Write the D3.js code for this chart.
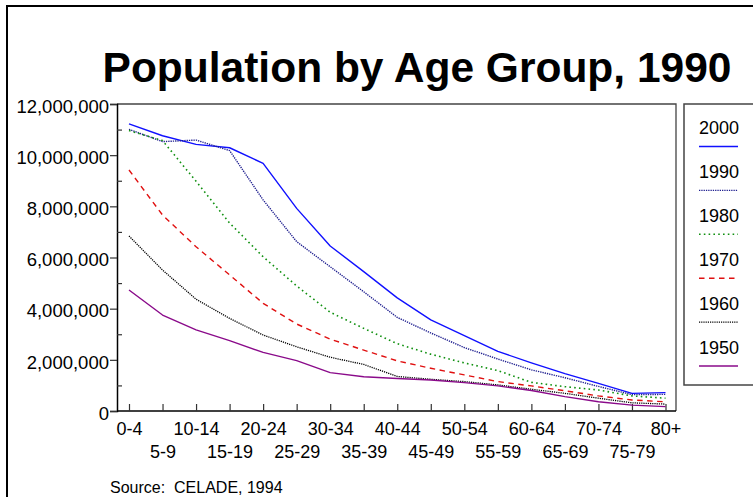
<!DOCTYPE html>
<html>
<head>
<meta charset="utf-8">
<script src="https://cdn.jsdelivr.net/npm/d3@7"></script>
<style>
  html, body { margin: 0; padding: 0; background: #fff; }
  svg { display: block; font-family: "Liberation Sans", Arial, sans-serif; }
</style>
</head>
<body>
<svg id="chart" width="753" height="497"></svg>
<script>
const categories = ["0-4","5-9","10-14","15-19","20-24","25-29","30-34","35-39","40-44","45-49","50-54","55-59","60-64","65-69","70-74","75-79","80+"];
const yTicks = [0, 2000000, 4000000, 6000000, 8000000, 10000000, 12000000];
const yMinorTicks = [1000000, 3000000, 5000000, 7000000, 9000000, 11000000];
const seriesNames = ["2000", "1990", "1980", "1970", "1960", "1950"];
const v2000 = [11.22, 10.76, 10.42, 10.29, 9.68, 7.92, 6.45, 5.45, 4.42, 3.56, 2.95, 2.33, 1.88, 1.46, 1.08, 0.69, 0.72];
const v1990 = [11.01, 10.53, 10.59, 10.18, 8.25, 6.62, 5.64, 4.66, 3.66, 3.05, 2.48, 2.03, 1.61, 1.30, 0.96, 0.64, 0.65];
const v1980 = [10.96, 10.57, 8.98, 7.35, 6.03, 4.89, 3.86, 3.23, 2.63, 2.22, 1.88, 1.58, 1.12, 0.95, 0.82, 0.59, 0.50];
const v1970 = [9.42, 7.66, 6.42, 5.32, 4.21, 3.40, 2.81, 2.38, 1.96, 1.67, 1.41, 1.15, 0.98, 0.79, 0.59, 0.43, 0.36];
const v1960 = [6.84, 5.51, 4.37, 3.62, 2.97, 2.51, 2.10, 1.82, 1.35, 1.24, 1.15, 1.02, 0.85, 0.69, 0.50, 0.32, 0.27];
const v1950 = [4.73, 3.75, 3.17, 2.75, 2.29, 1.97, 1.50, 1.34, 1.27, 1.21, 1.11, 0.98, 0.80, 0.56, 0.36, 0.23, 0.17];
const seriesValues = [v2000, v1990, v1980, v1970, v1960, v1950];

const styles = {
  "2000": { color: "#1010ff", dash: null, width: 1.4 },
  "1990": { color: "#202090", dash: "1.3,1", width: 1.4 },
  "1980": { color: "#109010", dash: "1.6,3.2", width: 1.6 },
  "1970": { color: "#e01010", dash: "5.5,4.5", width: 1.4 },
  "1960": { color: "#000000", dash: "1.2,1", width: 1.3 },
  "1950": { color: "#8a0a8a", dash: null, width: 1.4 }
};

const svg = d3.select("#chart");
const L = 117, R = 676, T = 104, B = 411;

// outer border
svg.append("rect").attr("x", 7).attr("y", 6).attr("width", 780).attr("height", 520)
  .attr("fill", "none").attr("stroke", "#000").attr("stroke-width", 2);

// title
svg.append("text").attr("x", 417).attr("y", 82).attr("text-anchor", "middle")
  .attr("font-size", 42.5).attr("font-weight", "bold").attr("fill", "#000")
  .text("Population by Age Group, 1990");

const x = d3.scalePoint().domain(categories).range([129, 665.5]);
const y = d3.scaleLinear().domain([0, 12000000]).range([B, T]);

// plot frame top & right
svg.append("path").attr("d", `M${L},${T}H${R}V${B}`)
  .attr("fill", "none").attr("stroke", "#444").attr("stroke-width", 1.3);

// y axis major
const yAxis = svg.append("g").attr("transform", `translate(${L},0)`)
  .call(d3.axisLeft(y).tickValues(yTicks).tickSize(7).tickPadding(1).tickFormat(d3.format(",")));
yAxis.select(".domain").attr("stroke", "#000").attr("stroke-width", 1.5);
yAxis.selectAll(".tick line").attr("stroke", "#333").attr("stroke-width", 1.2);
yAxis.selectAll(".tick text").attr("font-size", 18.5).attr("font-family", "Liberation Sans, Arial, sans-serif")
  .attr("fill", "#000").attr("dy", "0.45em");

// y axis minor ticks (inward)
const yMinor = svg.append("g").attr("transform", `translate(${L},0)`)
  .call(d3.axisLeft(y).tickValues(yMinorTicks).tickSize(-5).tickFormat(""));
yMinor.select(".domain").remove();
yMinor.selectAll(".tick line").attr("stroke", "#333").attr("stroke-width", 1.2);

// x axis
const xAxis = svg.append("g").attr("transform", `translate(0,${B})`)
  .call(d3.axisBottom(x).tickSize(-7));
xAxis.select(".domain").attr("d", `M${L},0H${R}`).attr("stroke", "#000").attr("stroke-width", 1.5);
xAxis.selectAll(".tick line").attr("stroke", "#333").attr("stroke-width", 1.2);
xAxis.selectAll(".tick text")
  .attr("font-size", 18).attr("font-family", "Liberation Sans, Arial, sans-serif").attr("fill", "#000")
  .attr("dy", 0)
  .attr("y", (d, i) => (i % 2 ? 47 : 24));

// lines
const line = d3.line().x((d, i) => x(categories[i])).y(d => y(d * 1000000));
seriesNames.forEach((name, k) => {
  const s = styles[name];
  svg.append("path").datum(seriesValues[k])
    .attr("d", line).attr("fill", "none")
    .attr("stroke", s.color).attr("stroke-width", s.width)
    .attr("stroke-dasharray", s.dash)
    .attr("stroke-linejoin", "round");
});

// legend
svg.append("rect").attr("x", 684).attr("y", 104).attr("width", 100).attr("height", 281)
  .attr("fill", "#fff").attr("stroke", "#444").attr("stroke-width", 1.5);
const lg = svg.append("g");
seriesNames.forEach((name, k) => {
  const s = styles[name];
  const by = 134 + k * 43.9;
  lg.append("text").attr("x", 699).attr("y", by).attr("font-size", 18).attr("fill", "#000").text(name);
  lg.append("line").attr("x1", 699).attr("x2", 738).attr("y1", by + 12.5).attr("y2", by + 12.5)
    .attr("stroke", s.color).attr("stroke-width", s.width).attr("stroke-dasharray", s.dash);
});

// source
svg.append("text").attr("x", 110).attr("y", 493).attr("font-size", 16).attr("fill", "#000")
  .attr("xml:space", "preserve").style("white-space", "pre").text("Source:  CELADE, 1994");
</script>
</body>
</html>
